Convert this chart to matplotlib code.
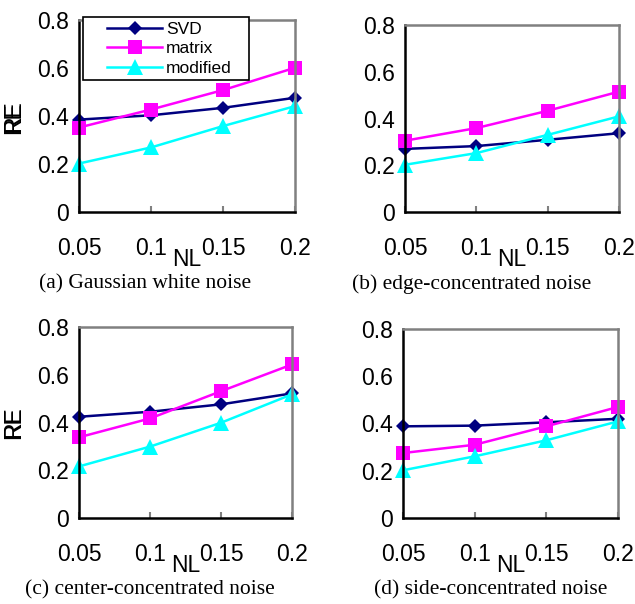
import matplotlib
matplotlib.use("Agg")
import matplotlib.pyplot as plt
from matplotlib.patches import Rectangle

nl_labels = ["0.05", "0.1", "0.15", "0.2"]
series_names = ["SVD", "matrix", "modified"]

svd_a = [0.385, 0.403, 0.434, 0.476]
matrix_a = [0.352, 0.427, 0.508, 0.601]
modified_a = [0.202, 0.269, 0.358, 0.441]

svd_b = [0.270, 0.282, 0.309, 0.337]
matrix_b = [0.305, 0.359, 0.433, 0.515]
modified_b = [0.202, 0.252, 0.330, 0.409]

svd_c = [0.424, 0.445, 0.476, 0.522]
matrix_c = [0.338, 0.417, 0.531, 0.643]
modified_c = [0.216, 0.299, 0.399, 0.518]

svd_d = [0.388, 0.391, 0.405, 0.420]
matrix_d = [0.275, 0.310, 0.388, 0.470]
modified_d = [0.202, 0.261, 0.329, 0.409]

captions = ["(a) Gaussian white noise", "(b) edge-concentrated noise",
            "(c) center-concentrated noise", "(d) side-concentrated noise"]
y_ticks = [0, 0.2, 0.4, 0.6, 0.8]
y_ticklabels = ["0", "0.2", "0.4", "0.6", "0.8"]

W, H = 635, 604
fig = plt.figure(figsize=(W / 100, H / 100), dpi=100)

SANS = "Liberation Sans"
SERIF = "Liberation Serif"

# pixel boxes: left, right, top, bottom
boxes = [(79, 295, 20, 212), (405, 619, 25, 212),
         (79, 292, 327, 518), (403, 618, 329, 518)]
cap_pos = [(145, 284), (472, 284), (150, 590), (491, 590)]
data = [(svd_a, matrix_a, modified_a), (svd_b, matrix_b, modified_b),
        (svd_c, matrix_c, modified_c), (svd_d, matrix_d, modified_d)]

styles = [dict(color="#000080", marker="D", ms=7.5),
          dict(color="#FF00FF", marker="s", ms=10.5),
          dict(color="#00FFFF", marker="^", ms=11)]

xs = list(range(len(nl_labels)))
FS = 16.5

for i, ((l, r, t, b), ser) in enumerate(zip(boxes, data)):
    ax = fig.add_axes([l / W, 1 - b / H, (r - l) / W, (b - t) / H])
    lines = []
    for name, vals, st in zip(series_names, ser, styles):
        ln, = ax.plot(xs, vals, color=st["color"], marker=st["marker"],
                      markersize=st["ms"], markeredgewidth=0, lw=1.8,
                      label=name, clip_on=False)
        lines.append(ln)
    ax.set_xlim(0, 3)
    ax.set_ylim(0, 0.8)
    ax.set_yticks(y_ticks)
    ax.set_yticklabels(y_ticklabels, fontfamily=SANS, fontsize=FS)
    ax.set_xticks(xs)
    ax.set_xticklabels(nl_labels, fontfamily=SANS, fontsize=FS)
    ax.tick_params(axis="y", length=0, pad=7)
    ax.tick_params(axis="x", direction="in", length=4, width=1.5,
                   color="#808080", pad=18)
    for s in ("top", "right"):
        ax.spines[s].set_color("#808080")
        ax.spines[s].set_linewidth(1.8)
    for s in ("left", "bottom"):
        ax.spines[s].set_color("black")
        ax.spines[s].set_linewidth(1.8)
    hpx = b - t
    wpx = r - l
    ax.text(0.5, -(47) / hpx, "NL", transform=ax.transAxes, ha="center",
            va="center", fontfamily=SANS, fontsize=FS)
    ax.text(-(l - 14) / wpx, 0.5, "RE", transform=ax.transAxes, ha="center",
            va="center", rotation=90, fontfamily=SANS, fontsize=FS)
    cx, cy = cap_pos[i]
    fig.text(cx / W, 1 - cy / H, captions[i], ha="center", va="center",
             fontfamily=SERIF, fontsize=15.5)
    if i == 0:
        rect = Rectangle((83 / W, 1 - 80 / H), (249 - 83) / W, (80 - 17) / H,
                         transform=fig.transFigure, facecolor="white",
                         edgecolor="black", lw=1.2, zorder=10, clip_on=False)
        ax.add_patch(rect)
        leg = ax.legend(handles=lines, loc="upper left",
                        bbox_to_anchor=(105 / W, 1 - 20 / H),
                        bbox_transform=fig.transFigure, frameon=False,
                        prop={"family": SANS, "size": 12.5},
                        handlelength=3.2, handletextpad=0.2,
                        labelspacing=0.25, borderpad=0.1, borderaxespad=0)
        leg.set_zorder(11)

fig.savefig("out.png", dpi=100)
